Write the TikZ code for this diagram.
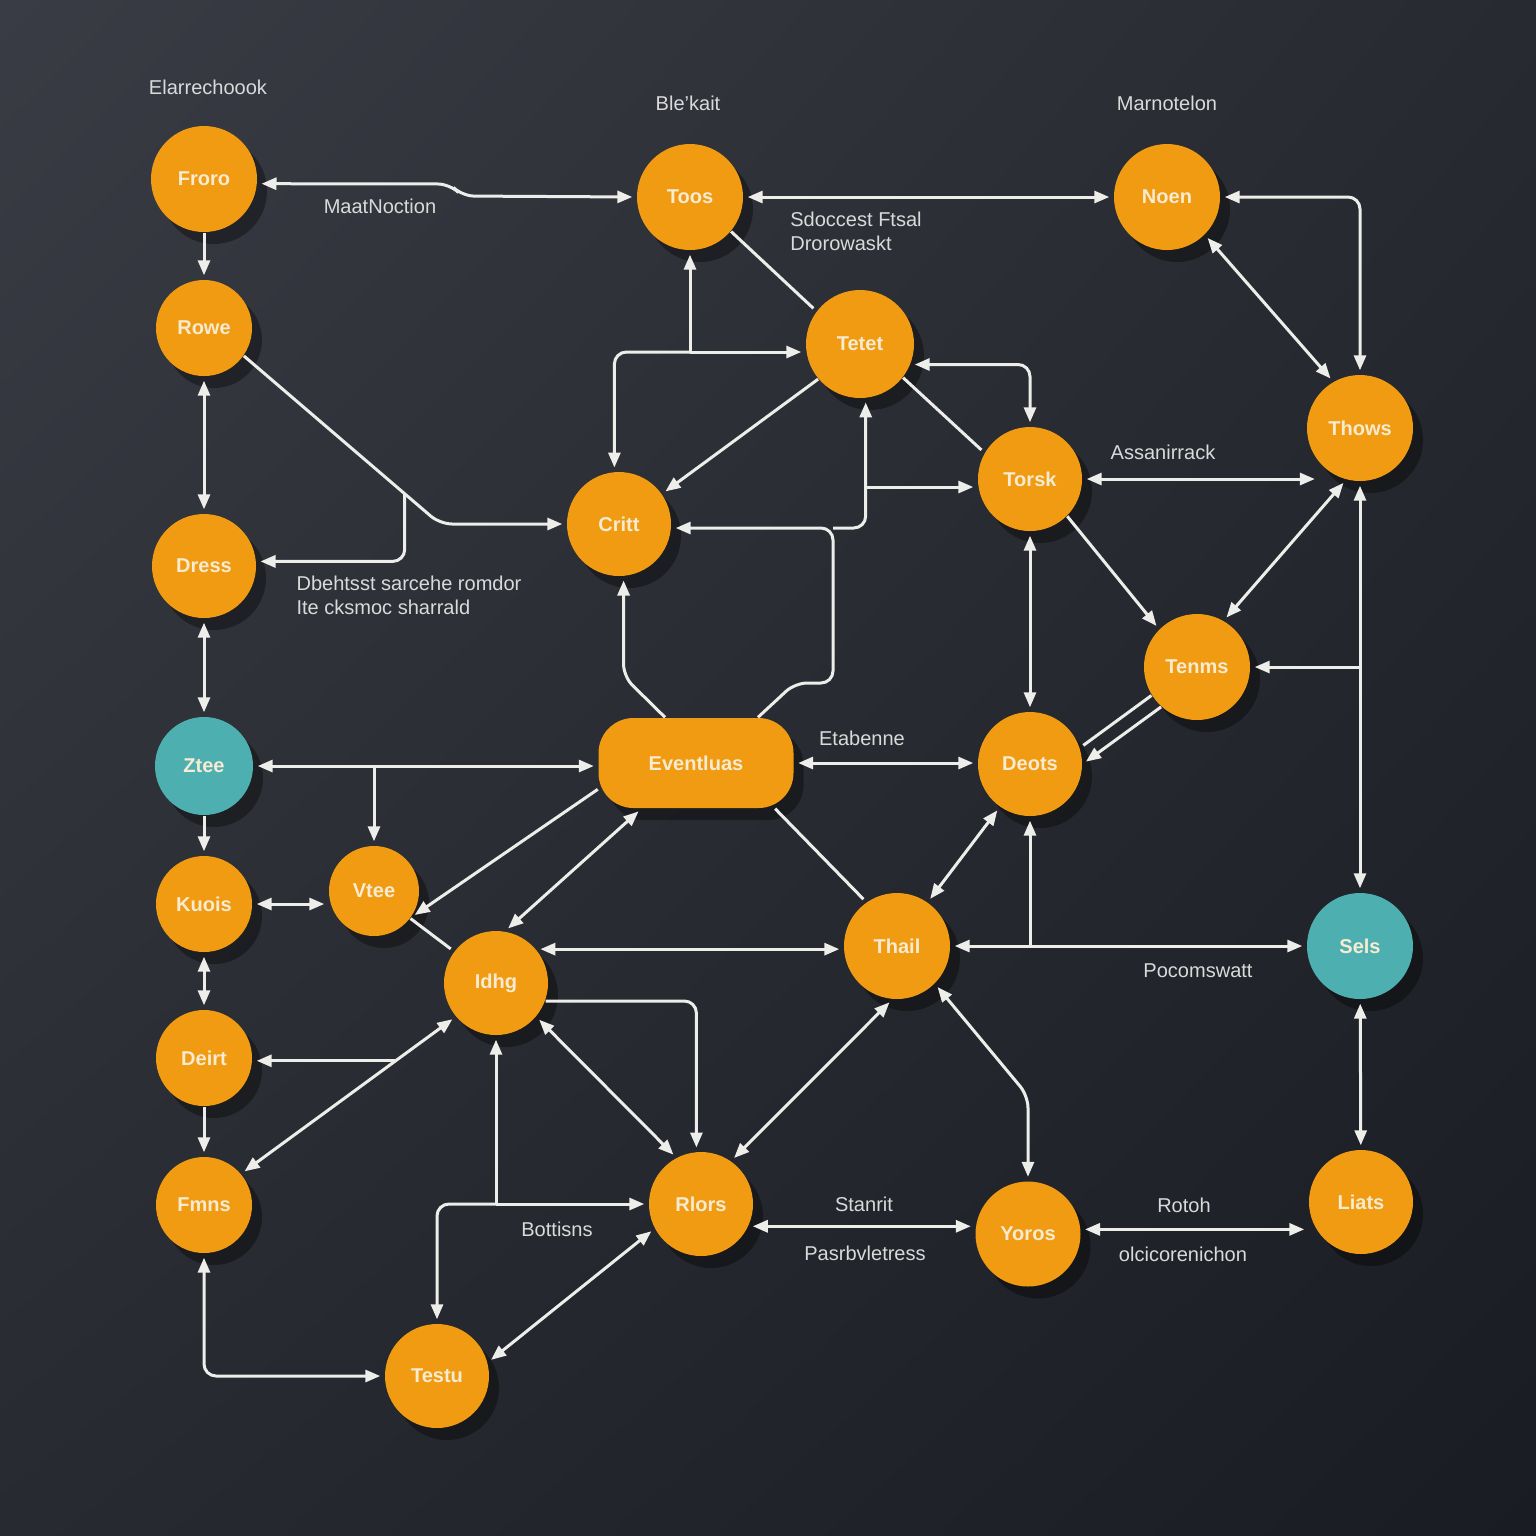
\documentclass[tikz,border=0pt]{standalone}
\usepackage{fontspec}
\setmainfont{Liberation Sans}
\usetikzlibrary{calc, positioning, shapes, arrows.meta, shadows, shadings}
\definecolor{bgtop}{HTML}{393C44}
\definecolor{bgmid}{HTML}{272A30}
\definecolor{bgbot}{HTML}{191C22}
\definecolor{nodeor}{HTML}{F09B12}
\definecolor{nodetl}{HTML}{4EAFB1}
\definecolor{nodetx}{HTML}{F7EBD2}
\definecolor{linec}{HTML}{EDEDEA}
\definecolor{lblc}{HTML}{DADADA}

\begin{document}
\begin{tikzpicture}[x=0.1mm,y=-0.1mm,
  blob/.style={circle,fill=nodeor,minimum size=#1,inner sep=0pt,text=nodetx,
    font=\bfseries\fontsize{5.7}{6}\selectfont,
    drop shadow={shadow xshift=1mm,shadow yshift=-1.2mm,opacity=.35,fill=black}},
  tblob/.style={blob=#1,fill=nodetl},
  lbl/.style={text=lblc,font=\fontsize{5.7}{6.9}\selectfont,align=left,inner sep=0pt},
  link/.style={draw=linec,line width=.3mm,rounded corners=1.2mm,shorten >=.4mm},
  arr/.style={link,->},
  both/.style={link,<->,shorten <=.4mm},
  >={Triangle[length=1.5mm,width=1.2mm]}]
\useasboundingbox (0,0) rectangle (1536,1536);
\shade[upper left=bgtop,upper right=bgmid,lower left=bgmid,lower right=bgbot] (0,0) rectangle (1536,1536);

\foreach \n/\t/\y/\d in {froro/Froro/179/10.6mm, rowe/Rowe/328/9.6mm, dress/Dress/566/10.4mm,
  kuois/Kuois/904/9.6mm, deirt/Deirt/1058/9.6mm, fmns/Fmns/1205/9.6mm}
  \node[blob=\d] (\n) at (204,\y) {\t};
\node[tblob=9.8mm] (ztee) at (204,766) {Ztee};
\node[blob=9mm] (vtee) at (374,891) {Vtee};
\node[blob=10.4mm] (idhig) at (496,983) {Idhg};
\node[blob=10.4mm] (testu) at (437,1376) {Testu};
\node[blob=10.4mm] (rlors) at (701,1204) {Rlors};
\node[blob=10.6mm] (toos) at (690,197) {Toos};
\node[blob=10.8mm] (tetet) at (860,344) {Tetet};
\node[blob=10.4mm] (critt) at (619,524) {Critt};
\node[blob=9mm,rectangle,rounded corners=3.5mm,minimum width=19.5mm] (event) at (696,763) {Eventluas};
\node[blob=10.6mm] (noen) at (1167,197) {Noen};
\node[blob=10.6mm] (thows) at (1360,428) {Thows};
\node[blob=10.4mm] (torsk) at (1030,479) {Torsk};
\node[blob=10.6mm] (tenms) at (1197,667) {Tenms};
\node[blob=10.4mm] (deots) at (1030,764) {Deots};
\node[blob=10.6mm] (thail) at (897,946) {Thail};
\node[tblob=10.6mm] (sels) at (1360,946) {Sels};
\node[blob=10.5mm] (yoros) at (1028,1234) {Yoros};
\node[blob=10.4mm] (liats) at (1361,1202) {Liats};

\node[lbl] (tbarr) at (208,87) {Elarrechoook};
\node[lbl] (tblek) at (688,103) {Ble'kait};
\node[lbl] (tmarn) at (1167,103) {Marnotelon};
\node[lbl] (lmaat) at (380,206) {MaatNoction};
\node[lbl] (lsdoc) at (856,231) {Sdoccest Ftsal\\ Drorowaskt};
\node[lbl] (lassa) at (1163,452) {Assanirrack};
\node[lbl] (ldbeh) at (409,595) {Dbehtsst sarcehe romdor\\ Ite cksmoc sharrald};
\node[lbl] (letab) at (862,738) {Etabenne};
\node[lbl] (lpoco) at (1198,971) {Pocomswatt};
\node[lbl] (lbott) at (557,1229) {Bottisns};
\node[lbl] (lstan) at (864,1204) {Stanrit};
\node[lbl] (lpasr) at (865,1253) {Pasrbvletress};
\node[lbl] (lroto) at (1184,1205) {Rotoh};
\node[lbl] (lolci) at (1183,1254) {olcicorenichon};

\draw[both] (froro.-5) -- (450,184) -- (462,196) -- (toos.west);
\draw[arr] (froro) -- (rowe);
\draw[both] (rowe) -- (dress);
\coordinate (rbend) at (440,524);
\draw[arr] (rowe.-35) -- (rbend) -- (critt.west);
\draw[arr] ($(rowe.-35)!.82!(rbend)$) |- (dress.5);
\draw[both] (dress) -- (ztee);
\draw[arr] (ztee) -- (kuois);
\draw[both] (kuois) -- (deirt);
\draw[arr] (deirt) -- (fmns);
\draw[both] (fmns.south) |- (testu.west);
\draw[both] (ztee.east) -- (ztee.east -| event.west);
\draw[arr] (ztee.east -| vtee.north) -- (vtee.north);
\draw[both] (kuois.east) -- (kuois.east -| vtee.west);
\draw[link] (vtee) -- (idhig);
\draw[arr] (event.-165) -- (vtee.-35);
\draw[both] (event.-140) -- (idhig.80);
\draw[both] (fmns.40) -- (idhig.-140);
\coordinate (dj) at ($(fmns.40)!.72!(idhig.-140)$);
\draw[arr] (dj) -- (dj -| deirt.east);
\draw[both] (idhig.40) -- (idhig.40 -| thail.west);
\draw[arr] (idhig.-20) -| (rlors.95);
\draw[both] (idhig.-40) -- (rlors.118);
\coordinate (tj) at (idhig.south |- rlors.west);
\draw[arr] (tj) -- (idhig.south);
\draw[arr] (tj) -- (rlors.west);
\draw[arr] (tj) -| (testu.north);
\draw[both] (testu.15) -- (rlors.-152);
\draw[both] (rlors.55) -- (thail.-95);
\draw[both] (rlors.-25) -- (rlors.-25 -| yoros.west);
\draw[both] (thail.-45) -- ($(yoros.north)+(0,-85)$) -- (yoros.north);
\draw[both] (yoros.5) -- (yoros.5 -| liats.west);
\draw[both] (liats) -- (sels);
\draw[both] (thail.east) -- (thail.east -| sels.west);
\draw[arr] (thail.east -| deots.south) -- (deots.south);
\draw[link] (event.-30) -- (thail.125);
\draw[both] (thail.55) -- (deots.-125);
\draw[both] (event.east) -- (event.east -| deots.west);
\draw[arr] ($(event.north)+(-31,0)$) -- ($(critt.-85)+(0,100)$) -- (critt.-85);
\coordinate (cj) at (833,528);
\draw[arr] ($(event.north)+(62,0)$) -- (795,683) -- (cj |- 0,683) -- (cj) -- (cj -| critt.east);
\draw[arr] (cj) -| (tetet.-84);
\coordinate (tk) at ($(cj -| tetet.-84)+(0,-41)$);
\draw[arr] (tk) -- (tk -| torsk.west);
\draw[arr] (tetet.-140) -- (critt.35);
\draw[link] (toos.-40) -- (tetet.143);
\coordinate (tt) at (toos.south |- 0,352);
\draw[arr] (tt) -- (toos.south);
\draw[arr] (tt) -- (tt -| tetet.west);
\draw[arr] (tt) -| (critt.95);
\draw[both] (toos) -- (noen);
\draw[both] (tetet.-22) -| (torsk.north);
\draw[link] (tetet.-38) -- (torsk.150);
\draw[both] (noen.east) -| (thows.north);
\draw[both] (noen.-45) -- (thows.120);
\draw[both] (torsk.east) -- (torsk.east -| thows.-140);
\draw[both] (torsk) -- (deots);
\draw[arr] (torsk.-45) -- (tenms.135);
\draw[both] (tenms.60) -- (thows.-105);
\coordinate (sj) at (thows.south |- tenms.east);
\draw[arr] (sj) -- (thows.south);
\draw[arr] (sj) -- (sels.north);
\draw[arr] (sj) -- (tenms.east);
\draw[link] (tenms.-148) -- (deots.18);
\draw[arr] (tenms.-132) -- (deots.0);
\end{tikzpicture}
\end{document}
